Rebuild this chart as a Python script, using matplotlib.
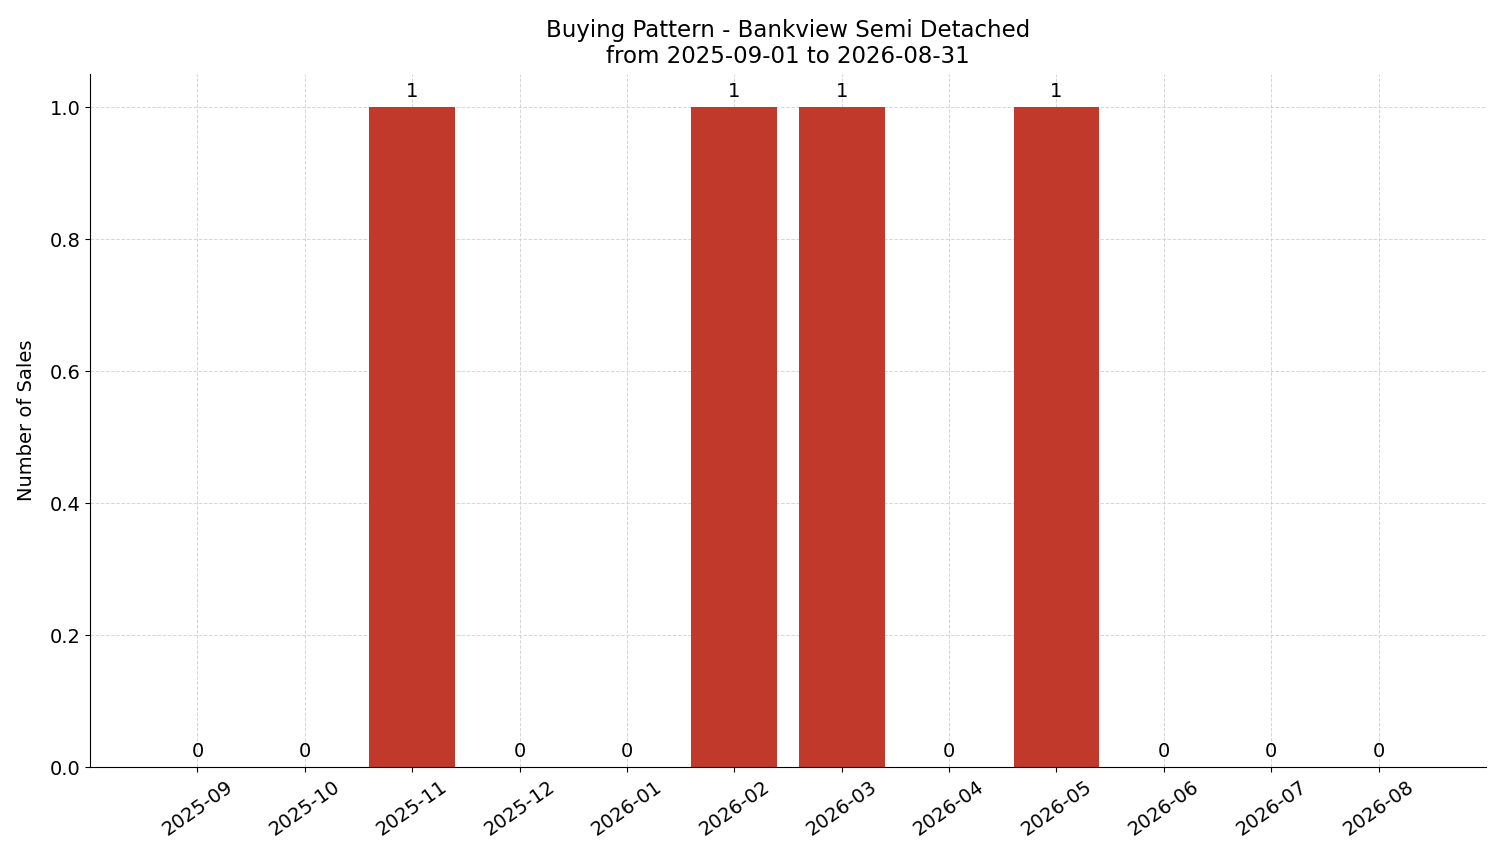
import matplotlib
matplotlib.use("Agg")
import matplotlib.pyplot as plt

months = ["2025-09", "2025-10", "2025-11", "2025-12", "2026-01", "2026-02",
          "2026-03", "2026-04", "2026-05", "2026-06", "2026-07", "2026-08"]
sales = [0, 0, 1, 0, 0, 1, 1, 0, 1, 0, 0, 0]

fig, ax = plt.subplots(figsize=(15.01, 8.63), dpi=100)
fig.subplots_adjust(left=0.06, right=0.99, top=0.914, bottom=0.111)

x = range(len(months))
bars = ax.bar(x, sales, width=0.8, color="#c0392b", zorder=2)
for xi, v in zip(x, sales):
    ax.text(xi, v + 0.01, str(v), ha="center", va="bottom", fontsize=14)

ax.set_xticks(list(x))
ax.set_xticklabels(months, rotation=35, fontsize=14)
ax.tick_params(axis="y", labelsize=14)
ax.set_xlim(-1, 12)
ax.set_ylim(0, 1.05)
ax.set_ylabel("Number of Sales", fontsize=14, labelpad=10)
ax.set_title("Buying Pattern - Bankview Semi Detached\nfrom 2025-09-01 to 2026-08-31",
             fontsize=16.5, pad=8)
ax.grid(True, linestyle="--", color="#cccccc", alpha=0.8, linewidth=0.7, zorder=0)
ax.spines["top"].set_visible(False)
ax.spines["right"].set_visible(False)

plt.savefig("out.png", dpi=100)
